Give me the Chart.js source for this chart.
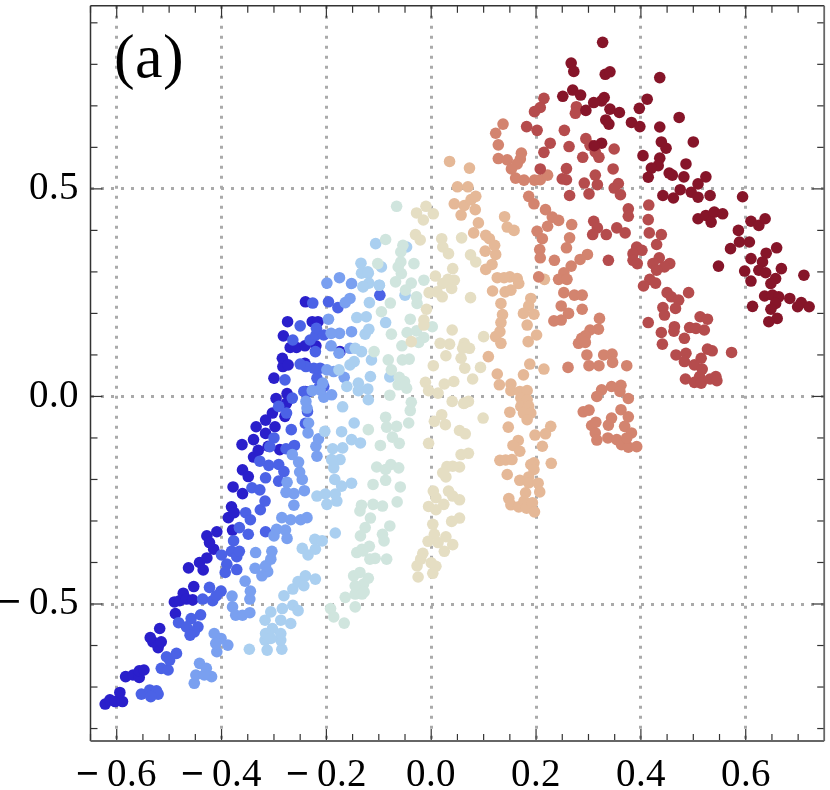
<!DOCTYPE html>
<html>
<head>
<meta charset="utf-8">
<script src="https://cdn.jsdelivr.net/npm/chart.js@4/dist/chart.umd.min.js"></script>
<style>
html,body{margin:0;padding:0;background:#fff}canvas{display:block}
@font-face{font-family:'AxisSerif';src:local('Liberation Serif');}
@font-face{font-family:'AxisSerif';src:local('Liberation Sans');unicode-range:U+2212;}
</style>
</head>
<body>
<canvas id="c" width="830" height="790"></canvas>
<script>
const xTicks=[-0.6,-0.4,-0.2,0,0.2,0.4,0.6];
const yTicks=[-0.5,0,0.5];
const panelLabel="(a)";
const seriesColors=["#2A1FCB","#4B62E6","#7AA0F0","#AACFF0","#D0E5DE","#E5DEC3","#E5B897","#D3846F","#B54C4D","#861529"];

const s0=[[-.622,-.741],[-.613,-.731],[-.603,-.735],[-.589,-.735],[-.594,-.713],[-.583,-.675],[-.569,-.671],[-.557,-.677],[-.557,-.661],[-.548,-.659],[-.521,-.605],[-.531,-.591],[-.536,-.581],[-.515,-.591],[-.518,-.559],[-.488,-.523],[-.490,-.495],[-.480,-.492],[-.473,-.474],[-.467,-.488],[-.455,-.490],[-.453,-.458],[-.435,-.418],[-.442,-.400],[-.428,-.389],[-.463,-.413],[-.415,-.368],[-.428,-.336],[-.423,-.352],[-.409,-.326],[-.379,-.322],[-.387,-.292],[-.381,-.266],[-.376,-.280],[-.360,-.234],[-.378,-.218],[-.360,-.177],[-.349,-.193],[-.339,-.146],[-.330,-.130],[-.361,-.116],[-.339,-.104],[-.334,-.073],[-.316,-.057],[-.316,-.089],[-.298,-.073],[-.303,-.040],[-.279,-.048],[-.276,-.016],[-.296,-.005],[-.275,.007],[-.289,-.128],[-.311,-.120],[-.300,.044],[-.283,.072],[-.284,.092],[-.273,.076],[-.282,.146],[-.274,.180],[-.269,.118],[-.257,.118],[-.241,.122],[-.220,.122],[-.227,.180],[-.216,.180],[-.240,.228],[-.174,.108],[-.241,.080],[-.240,.012]];
const s1=[[-.553,-.717],[-.537,-.707],[-.524,-.709],[-.521,-.717],[-.535,-.723],[-.515,-.655],[-.502,-.659],[-.499,-.635],[-.505,-.627],[-.486,-.619],[-.482,-.545],[-.458,-.535],[-.440,-.526],[-.445,-.555],[-.467,-.555],[-.452,-.567],[-.460,-.575],[-.436,-.488],[-.423,-.460],[-.417,-.492],[-.401,-.469],[-.410,-.480],[-.400,-.382],[-.390,-.404],[-.393,-.424],[-.371,-.417],[-.381,-.373],[-.371,-.386],[-.366,-.373],[-.377,-.348],[-.349,-.332],[-.366,-.316],[-.316,-.326],[-.354,-.280],[-.345,-.297],[-.326,-.273],[-.317,-.252],[-.342,-.220],[-.327,-.225],[-.316,-.196],[-.310,-.166],[-.327,-.156],[-.291,-.164],[-.281,-.181],[-.291,-.204],[-.300,-.100],[-.308,-.121],[-.277,-.126],[-.261,-.118],[-.267,-.080],[-.240,-.065],[-.236,-.036],[-.291,-.024],[-.276,-.040],[-.265,-.004],[-.243,.012],[-.232,.012],[-.215,.020],[-.205,.024],[-.218,.044],[-.212,.068],[-.224,.068],[-.239,.072],[-.250,.078],[-.279,.040],[-.221,.108],[-.231,.136],[-.220,.148],[-.219,.164],[-.205,.148],[-.264,.136],[-.250,.170],[-.226,.225],[-.196,.228],[-.178,.214],[-.098,.244]];
const s2=[[-.452,-.691],[-.449,-.671],[-.442,-.643],[-.429,-.655],[-.419,-.675],[-.433,-.671],[-.414,-.571],[-.401,-.583],[-.388,-.599],[-.409,-.615],[-.411,-.595],[-.379,-.507],[-.373,-.527],[-.360,-.527],[-.346,-.521],[-.380,-.481],[-.346,-.488],[-.345,-.469],[-.355,-.445],[-.336,-.414],[-.323,-.432],[-.312,-.422],[-.316,-.408],[-.306,-.392],[-.304,-.373],[-.335,-.376],[-.300,-.336],[-.295,-.320],[-.278,-.322],[-.275,-.342],[-.285,-.292],[-.268,-.297],[-.249,-.297],[-.237,-.292],[-.262,-.262],[-.242,-.227],[-.262,-.234],[-.277,-.231],[-.275,-.207],[-.246,-.200],[-.251,-.182],[-.253,-.158],[-.265,-.140],[-.218,-.144],[-.220,-.120],[-.215,-.102],[-.235,-.088],[-.234,-.064],[-.237,-.028],[-.239,-.012],[-.190,.004],[-.205,-.002],[-.212,.016],[-.227,.014],[-.207,.032],[-.186,.060],[-.199,.064],[-.176,.104],[-.191,.122],[-.155,.116],[-.175,.152],[-.191,.152],[-.152,.156],[-.196,.186],[-.199,.273],[-.175,.286],[-.152,.272],[-.155,.236],[-.164,.226],[-.166,.046]];
const s3=[[-.347,-.609],[-.313,-.611],[-.285,-.609],[-.317,-.587],[-.287,-.587],[-.303,-.559],[-.287,-.571],[-.316,-.571],[-.306,-.583],[-.317,-.539],[-.306,-.519],[-.287,-.539],[-.284,-.511],[-.268,-.547],[-.264,-.503],[-.254,-.516],[-.281,-.480],[-.264,-.464],[-.254,-.446],[-.240,-.432],[-.243,-.456],[-.221,-.440],[-.246,-.366],[-.235,-.382],[-.221,-.368],[-.222,-.344],[-.208,-.348],[-.183,-.329],[-.199,-.260],[-.180,-.252],[-.218,-.240],[-.202,-.235],[-.183,-.235],[-.152,-.209],[-.171,-.216],[-.184,-.200],[-.186,-.172],[-.174,-.152],[-.190,-.152],[-.188,-.126],[-.169,-.124],[-.152,-.104],[-.135,-.112],[-.171,-.085],[-.203,-.084],[-.147,-.064],[-.169,-.025],[-.120,-.008],[-.121,.018],[-.139,.032],[-.139,.014],[-.161,.024],[-.116,.048],[-.176,.064],[-.114,.088],[-.147,.084],[-.155,.076],[-.133,.108],[-.145,.116],[-.126,.150],[-.119,.162],[-.142,.190],[-.124,.192],[-.087,.178],[-.118,.226],[-.130,.265],[-.119,.273],[-.099,.268],[-.133,.297],[-.120,.297],[-.106,.368],[-.047,.360],[-.134,.321],[-.121,.300],[-.095,.312],[-.130,.264],[-.099,.268],[-.050,.244],[-.079,.047]];
const s4=[[-.192,-.511],[-.186,-.531],[-.166,-.546],[-.164,-.484],[-.145,-.507],[-.145,-.476],[-.148,-.432],[-.136,-.424],[-.129,-.452],[-.145,-.456],[-.132,-.476],[-.132,-.368],[-.142,-.376],[-.135,-.336],[-.126,-.316],[-.136,-.276],[-.087,-.050],[-.085,-.074],[-.066,-.072],[-.043,-.064],[-.120,-.080],[-.074,-.098],[-.061,-.113],[-.097,-.118],[-.104,-.170],[-.087,-.176],[-.077,-.164],[-.062,-.172],[-.087,-.202],[-.111,-.212],[-.059,-.218],[-.065,-.254],[-.093,-.264],[-.111,-.260],[-.133,-.262],[-.116,-.293],[-.079,-.312],[-.093,-.332],[-.090,-.348],[-.118,-.361],[-.130,-.372],[-.107,-.390],[-.085,-.392],[-.117,-.392],[-.120,-.438],[-.128,-.471],[-.040,-.034],[-.038,-.014],[-.079,.003],[-.047,.020],[-.063,.028],[-.051,.036],[-.061,.046],[-.076,.064],[-.082,.088],[-.055,.088],[-.042,.090],[-.056,.122],[-.109,.108],[-.076,.150],[-.046,.154],[-.028,.158],[-.014,.142],[-.024,.130],[.002,.168],[-.040,.186],[-.095,.204],[-.078,.225],[-.028,.240],[-.027,.224],[-.038,.273],[-.049,.256],[-.068,.276],[-.014,.280],[-.057,.296],[-.066,.458],[-.087,.378],[-.054,.364],[-.058,.348],[-.063,.312],[-.058,.324],[-.102,.320],[-.033,.320]];
const s5=[[.099,-.052],[.040,-.012],[.063,-.016],[.071,-.012],[.020,-.044],[.006,-.060],[.027,-.068],[.054,-.082],[.065,-.090],[-.005,-.113],[.071,-.137],[.057,-.140],[.054,-.170],[.041,-.168],[.030,-.169],[.022,-.184],[.028,-.194],[.004,-.228],[.033,-.228],[.009,-.244],[.041,-.240],[.054,-.249],[.024,-.260],[-.005,-.265],[.009,-.273],[.003,-.308],[.054,-.293],[.039,-.301],[.006,-.332],[.028,-.338],[-.006,-.349],[.013,-.352],[.041,-.357],[.025,-.373],[-.016,-.378],[-.020,-.392],[.000,-.401],[.009,-.409],[-.027,-.408],[.003,-.426],[-.025,-.435],[-.010,.458],[-.028,.442],[.004,.440],[-.015,.425],[-.030,.390],[-.021,.377],[.020,.380],[.022,.360],[.033,.344],[.058,.382],[.075,.341],[.085,.324],[.041,.308],[.008,.290],[.044,.280],[.032,.282],[.022,.272],[.039,.260],[-.004,.250],[.011,.252],[.021,.240],[.075,.238],[-.009,.210],[-.014,.184],[-.014,.172],[.040,.160],[-.038,.132],[.100,.144],[.017,.128],[.035,.126],[.063,.128],[.073,.116],[.060,.116],[.028,.098],[.057,.092],[.004,.074],[.064,.068],[.094,.070],[.079,.042],[.043,.036],[.025,.030],[-.011,.034],[-.005,.014],[.013,.008],[.062,-.017]];
const s6=[[.035,.566],[.073,.550],[.050,.505],[.070,.505],[.044,.464],[.057,.437],[.063,.460],[.076,.474],[.085,.482],[.084,.450],[.090,.418],[.081,.394],[.140,.433],[.145,.408],[.158,.400],[.104,.388],[.111,.380],[.121,.364],[.103,.350],[.123,.342],[.116,.318],[.104,.306],[.126,.286],[.150,.288],[.139,.286],[.164,.284],[.167,.272],[.216,.282],[.117,.254],[.141,.252],[.152,.256],[.133,.224],[.190,.236],[.186,.218],[.136,.197],[.176,.200],[.196,.198],[.133,.178],[.183,.172],[.131,.156],[.123,.144],[.201,.148],[.185,.132],[.133,.128],[.109,.096],[.188,.078],[.215,.066],[.126,.054],[.176,.052],[.130,.028],[.152,.030],[.152,.014],[.169,.012],[.183,.014],[.171,-.004],[.183,-.008],[.171,-.024],[.186,-.024],[.176,-.040],[.190,-.040],[.183,-.056],[.150,-.038],[.147,-.074],[.228,-.072],[.198,-.093],[.218,-.090],[.166,-.106],[.156,-.118],[.169,-.132],[.212,-.120],[.229,-.161],[.196,-.160],[.190,-.164],[.196,-.176],[.131,-.154],[.142,-.153],[.154,-.152],[.145,-.188],[.169,-.202],[.186,-.194],[.186,-.208],[.204,-.209],[.207,-.230],[.180,-.232],[.148,-.246],[.152,-.261],[.167,-.266],[.177,-.252],[.182,-.269],[.193,-.256],[.197,-.278]];
const s7=[[.137,.656],[.123,.634],[.128,.606],[.128,.573],[.145,.570],[.172,.586],[.170,.572],[.164,.560],[.153,.548],[.161,.526],[.177,.521],[.197,.521],[.208,.522],[.222,.533],[.186,.482],[.196,.464],[.218,.450],[.231,.432],[.243,.424],[.222,.410],[.268,.414],[.202,.398],[.212,.380],[.264,.382],[.258,.358],[.207,.354],[.208,.334],[.235,.328],[.298,.342],[.284,.330],[.267,.314],[.253,.298],[.243,.282],[.259,.282],[.205,.288],[.253,.250],[.273,.244],[.288,.244],[.248,.218],[.288,.210],[.262,.200],[.248,.184],[.234,.182],[.321,.188],[.319,.162],[.303,.160],[.294,.146],[.281,.128],[.287,.140],[.294,.130],[.297,.100],[.301,.074],[.320,.074],[.329,.100],[.345,.102],[.346,.082],[.261,.070],[.373,.074],[.362,.027],[.344,.024],[.325,.016],[.316,.000],[.360,.012],[.376,-.005],[.290,-.037],[.301,-.033],[.362,-.032],[.344,-.052],[.376,-.049],[.338,-.069],[.306,-.070],[.314,-.062],[.369,-.072],[.382,-.088],[.313,-.088],[.316,-.105],[.337,-.100],[.354,-.104],[.363,-.116],[.376,-.122],[.392,-.121],[.373,-.100]];
const s8=[[.215,.718],[.208,.696],[.197,.686],[.182,.650],[.202,.641],[.277,.698],[.275,.682],[.254,.641],[.227,.610],[.215,.588],[.263,.602],[.295,.621],[.303,.605],[.313,.589],[.320,.576],[.349,.596],[.289,.576],[.208,.548],[.258,.549],[.250,.524],[.258,.522],[.347,.548],[.313,.533],[.292,.514],[.317,.510],[.264,.484],[.301,.488],[.357,.513],[.349,.502],[.361,.486],[.415,.461],[.376,.452],[.376,.434],[.414,.426],[.416,.394],[.310,.422],[.317,.406],[.308,.390],[.334,.390],[.354,.406],[.370,.394],[.439,.390],[.430,.366],[.392,.360],[.402,.352],[.385,.344],[.338,.328],[.435,.334],[.385,.328],[.423,.320],[.455,.320],[.393,.320],[.445,.312],[.430,.304],[.417,.282],[.405,.266],[.428,.273],[.491,.250],[.450,.250],[.458,.240],[.472,.232],[.466,.212],[.442,.214],[.445,.196],[.414,.178],[.439,.154],[.441,.126],[.464,.168],[.463,.157],[.493,.166],[.505,.164],[.521,.160],[.483,.140],[.513,.192],[.527,.186],[.527,.114],[.536,.110],[.573,.106],[.467,.100],[.486,.104],[.483,.084],[.502,.076],[.515,.092],[.517,.066],[.512,.048],[.485,.042],[.502,.034],[.515,.032],[.532,.042],[.543,.048],[.545,.038]];
const s9=[[.327,.853],[.267,.803],[.272,.783],[.332,.776],[.341,.782],[.436,.768],[.270,.738],[.285,.726],[.251,.723],[.412,.716],[.330,.720],[.325,.712],[.310,.708],[.295,.689],[.341,.692],[.359,.684],[.397,.694],[.333,.666],[.339,.656],[.382,.660],[.398,.650],[.473,.672],[.436,.649],[.439,.613],[.325,.610],[.311,.604],[.500,.613],[.448,.598],[.404,.580],[.436,.574],[.433,.556],[.420,.550],[.486,.560],[.414,.528],[.454,.538],[.460,.533],[.482,.529],[.524,.529],[.509,.512],[.475,.498],[.496,.492],[.509,.480],[.532,.484],[.442,.484],[.462,.478],[.594,.481],[.509,.428],[.524,.436],[.540,.444],[.556,.440],[.534,.420],[.610,.422],[.586,.400],[.571,.356],[.588,.372],[.607,.372],[.610,.332],[.625,.412],[.637,.428],[.659,.358],[.639,.345],[.548,.314],[.632,.324],[.668,.308],[.598,.302],[.625,.304],[.638,.298],[.610,.278],[.657,.284],[.648,.272],[.711,.292],[.636,.242],[.651,.244],[.663,.240],[.684,.236],[.657,.224],[.648,.210],[.613,.217],[.706,.226],[.699,.216],[.721,.216],[.660,.188],[.644,.180]];
const allSeries=[s0,s1,s2,s3,s4,s5,s6,s7,s8,s9];

const SERIF="AxisSerif,'Liberation Serif','Times New Roman',serif";
const fmt=v=>(v<0?'\u2212\u2009':'')+Math.abs(v).toFixed(1);
const near=(v,list)=>list.some(t=>Math.abs(t-v)<1e-6);

const framePlugin={
  id:'frame',
  afterDatasetsDraw(chart){
    const {ctx,chartArea:a,scales:{x,y}}=chart;
    ctx.save();
    const seg=(x0,y0,x1,y1)=>{ctx.beginPath();ctx.moveTo(x0,y0);ctx.lineTo(x1,y1);ctx.stroke();};
    ctx.strokeStyle='#333';ctx.lineWidth=1.2;
    for(let i=-13;i<=15;i++){
      const v=i*0.05,p=x.getPixelForValue(v);
      if(p<a.left||p>a.right)continue;
      const len=near(v,xTicks)?12:7;
      seg(p,a.bottom,p,a.bottom-len);seg(p,a.top,p,a.top+len);
    }
    for(let i=-8;i<=9;i++){
      const v=i*0.1,p=y.getPixelForValue(v);
      if(p<a.top||p>a.bottom)continue;
      const len=near(v,yTicks)?12:7;
      seg(a.left,p,a.left+len,p);seg(a.right,p,a.right-len,p);
    }
    ctx.strokeStyle='#333';ctx.lineWidth=1.5;
    seg(a.left,a.top,a.right,a.top);seg(a.left,a.top,a.left,a.bottom);
    ctx.strokeStyle='#666';ctx.lineWidth=1.8;
    seg(a.left,a.bottom,a.right,a.bottom);seg(a.right,a.top,a.right,a.bottom);
    ctx.fillStyle='#000';ctx.font="62px "+SERIF;ctx.textAlign='center';ctx.textBaseline='alphabetic';
    ctx.fillText(panelLabel,149,77);
    ctx.restore();
  }
};

function draw(){
new Chart(document.getElementById('c'),{
  type:'scatter',
  data:{datasets:allSeries.map((s,i)=>({
    data:s.map(([x,y])=>({x,y})),
    backgroundColor:seriesColors[i],
    borderWidth:0,
    pointRadius:5.8,
    pointHoverRadius:5.8,
    order:allSeries.length-i
  }))},
  options:{
    responsive:false,animation:false,
    layout:{padding:{top:2.5,right:1,left:0,bottom:0}},
    plugins:{legend:{display:false},tooltip:{enabled:false}},
    scales:{
      x:{
        type:'linear',min:-0.650,max:0.7497,
        afterBuildTicks(s){s.ticks=xTicks.map(value=>({value}));},
        afterFit(s){s.height=49;s.paddingLeft=0;s.paddingRight=0;},
        grid:{color:'#aaaaaa',lineWidth:3,drawTicks:false},
        border:{display:false,dash:[3,7]},
        ticks:{autoSkip:false,maxRotation:0,padding:11,color:'#000',font:{family:SERIF,size:39},callback:fmt}
      },
      y:{
        type:'linear',min:-0.830,max:0.941,
        afterBuildTicks(s){s.ticks=yTicks.map(value=>({value}));},
        afterFit(s){s.width=90.5;s.paddingTop=0;s.paddingBottom=0;},
        grid:{color:'#aaaaaa',lineWidth:3,drawTicks:false},
        border:{display:false,dash:[3,7]},
        ticks:{autoSkip:false,padding:12,color:'#000',font:{family:SERIF,size:39},callback:fmt}
      }
    }
  },
  plugins:[framePlugin]
});
}
document.fonts.load("39px AxisSerif","\u22120.5").then(draw,draw);
</script>
</body>
</html>
